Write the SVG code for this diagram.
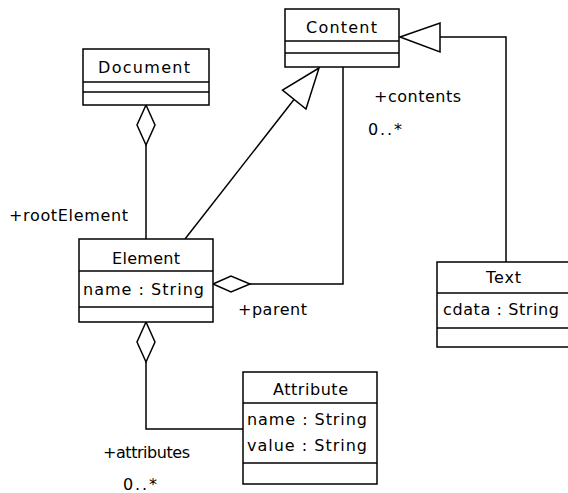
<svg xmlns="http://www.w3.org/2000/svg" width="568" height="493" viewBox="0 0 568 493">
<style>
.box{fill:#fff;stroke:#000;stroke-width:1.5}
.sep{stroke:#000;stroke-width:1.5}
.ln{fill:none;stroke:#000;stroke-width:1.5}
.hd{fill:#fff;stroke:#000;stroke-width:1.5}
text{font-family:"DejaVu Sans","Liberation Sans",sans-serif;font-size:16px;fill:#000}
</style>
<rect width="568" height="493" fill="#fff"/>
<g id="connectors">
<polyline class="ln" points="146,145 146,239"/>
<polygon class="hd" points="146,105 137,125 146,145 155,125"/>
<polyline class="ln" points="146,362 146,429 243,429"/>
<polygon class="hd" points="146,322 137,342 146,362 155,342"/>
<polyline class="ln" points="343,67 343,284 250,284"/>
<polygon class="hd" points="213,284 231,276 250,284 231,292"/>
<line class="ln" x1="185" y1="239" x2="294" y2="99.5"/>
<polygon class="hd" points="319,68 306,109 282.5,90"/>
<polyline class="ln" points="506,262 506,37 440,37"/>
<polygon class="hd" points="400,37 440,23 440,52"/>
<text x="9" y="221" textLength="119" lengthAdjust="spacing">+rootElement</text>
<text x="374" y="102" textLength="87" lengthAdjust="spacing">+contents</text>
<text x="368" y="135" textLength="34" lengthAdjust="spacing">0..*</text>
<text x="238" y="315" textLength="69" lengthAdjust="spacing">+parent</text>
<text x="103" y="458" textLength="87" lengthAdjust="spacing">+attributes</text>
<text x="123" y="490" textLength="34" lengthAdjust="spacing">0..*</text>
</g>
<g id="Content">
<rect class="box" x="285" y="9" width="114" height="58"/>
<line class="sep" x1="285" y1="41" x2="399" y2="41"/>
<line class="sep" x1="285" y1="53" x2="399" y2="53"/>
<text x="306" y="33" textLength="71" lengthAdjust="spacing">Content</text>
</g>
<g id="Document">
<rect class="box" x="83" y="49" width="126" height="56"/>
<line class="sep" x1="83" y1="82" x2="209" y2="82"/>
<line class="sep" x1="83" y1="92" x2="209" y2="92"/>
<text x="98" y="73" textLength="92" lengthAdjust="spacing">Document</text>
</g>
<g id="Element">
<rect class="box" x="79" y="239" width="134" height="83"/>
<line class="sep" x1="79" y1="271" x2="213" y2="271"/>
<line class="sep" x1="79" y1="307" x2="213" y2="307"/>
<text x="112" y="264" textLength="68" lengthAdjust="spacing">Element</text>
<text x="83" y="295" textLength="121" lengthAdjust="spacing">name : String</text>
</g>
<g id="Attribute">
<rect class="box" x="243" y="372" width="134" height="112"/>
<line class="sep" x1="243" y1="403" x2="377" y2="403"/>
<line class="sep" x1="243" y1="463" x2="377" y2="463"/>
<text x="273" y="395" textLength="75" lengthAdjust="spacing">Attribute</text>
<text x="247" y="425" textLength="120" lengthAdjust="spacing">name : String</text>
<text x="247" y="451" textLength="120" lengthAdjust="spacing">value : String</text>
</g>
<g id="Text">
<rect class="box" x="437" y="262" width="135" height="85"/>
<line class="sep" x1="437" y1="293" x2="572" y2="293"/>
<line class="sep" x1="437" y1="328" x2="572" y2="328"/>
<text x="486" y="283" textLength="35" lengthAdjust="spacing">Text</text>
<text x="443" y="315" textLength="116" lengthAdjust="spacing">cdata : String</text>
</g>
</svg>
